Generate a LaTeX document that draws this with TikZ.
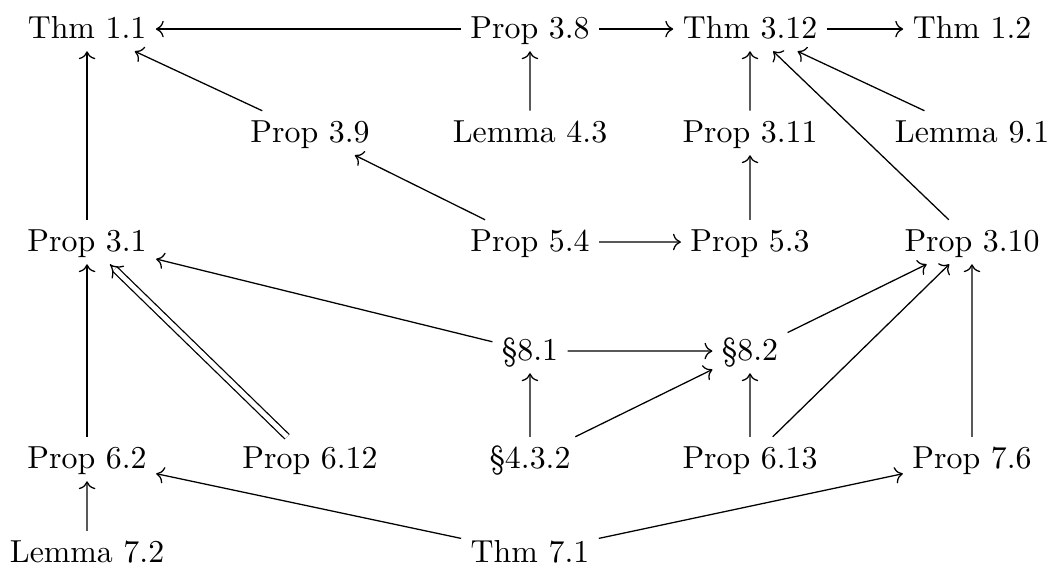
\documentclass[tikz,border=0pt]{standalone}
\usepackage{amsmath,amssymb}
\usepackage{tikz}
\usetikzlibrary{calc,backgrounds,arrows.meta}
\tikzstyle{dep}=[
  >={Computer Modern Rightarrow}, font=\normalsize, scale=0.948
]
\tikzstyle{res}=[
  inner sep=2.8pt, text height=1.6ex, text depth=.25ex
]
\tikzstyle{uses}=[
  ->, line width=0.4pt
]
\tikzstyle{strong}=[
  -{Implies}, double, double equal sign distance, line width=0.4pt
]

\begin{document}
\begin{tikzpicture}[dep]
    \useasboundingbox (0,0) rectangle (12.21,-6.68);
      % row 1
      \node (t11) at (1.013,-0.338) [res] {Thm 1.1};
      \node (p38) at (6.169,-0.338) [res] {Prop 3.8};
      \node (t312) at (8.730,-0.338) [res] {Thm 3.12};
      \node (t12) at (11.314,-0.338) [res] {Thm 1.2};
      % row 2
      \node (p39) at (3.608,-1.548) [res] {Prop 3.9};
      \node (l43) at (6.169,-1.548) [res] {Lemma 4.3};
      \node (p311) at (8.730,-1.548) [res] {Prop 3.11};
      \node (l91) at (11.314,-1.548) [res] {Lemma 9.1};
      % row 3
      \node (p31) at (1.013,-2.817) [res] {Prop 3.1};
      \node (p54) at (6.169,-2.817) [res] {Prop 5.4};
      \node (p53) at (8.730,-2.817) [res] {Prop 5.3};
      \node (p310) at (11.314,-2.817) [res] {Prop 3.10};
      % row 4
      \node (s81) at (6.169,-4.086) [res] {\S8.1};
      \node (s82) at (8.730,-4.086) [res] {\S8.2};
      % row 5
      \node (p62) at (1.013,-5.343) [res] {Prop 6.2};
      \node (p612) at (3.608,-5.343) [res] {Prop 6.12};
      \node (s432) at (6.169,-5.343) [res] {\S4.3.2};
      \node (p613) at (8.730,-5.343) [res] {Prop 6.13};
      \node (p76) at (11.314,-5.343) [res] {Prop 7.6};
      % row 6
      \node (l72) at (1.013,-6.437) [res] {Lemma 7.2};
      \node (t71) at (6.169,-6.437) [res] {Thm 7.1};
    \begin{scope}[on background layer]
      \draw [uses] (p38) -- (t11);
      \draw [uses] (p38) -- (t312);
      \draw [uses] (t312) -- (t12);
      \draw [uses] (p39) -- (t11);
      \draw [uses] (l43) -- (p38);
      \draw [uses] (p311) -- (t312);
      \draw [uses] (l91) -- (t312);
      \draw [uses] (p31) -- (t11);
      \draw [uses] (p54) -- (p39);
      \draw [uses] (p54) -- (p53);
      \draw [uses] (p53) -- (p311);
      \draw [uses] (p310) -- (t312);
      \draw [uses] (s81) -- (p31);
      \draw [uses] (s81) -- (s82);
      \draw [uses] (s82) -- (p310);
      \draw [uses] (p62) -- (p31);
      \draw [strong] (p612) -- (p31);
      \draw [uses] (s432) -- (s81);
      \draw [uses] (s432) -- (s82);
      \draw [uses] (p613) -- (s82);
      \draw [uses] (p613) -- (p310);
      \draw [uses] (p76) -- (p310);
      \draw [uses] (l72) -- (p62);
      \draw [uses] (t71) -- (p62);
      \draw [uses] (t71) -- (p76);
    \end{scope}
    \end{tikzpicture}
\end{document}
